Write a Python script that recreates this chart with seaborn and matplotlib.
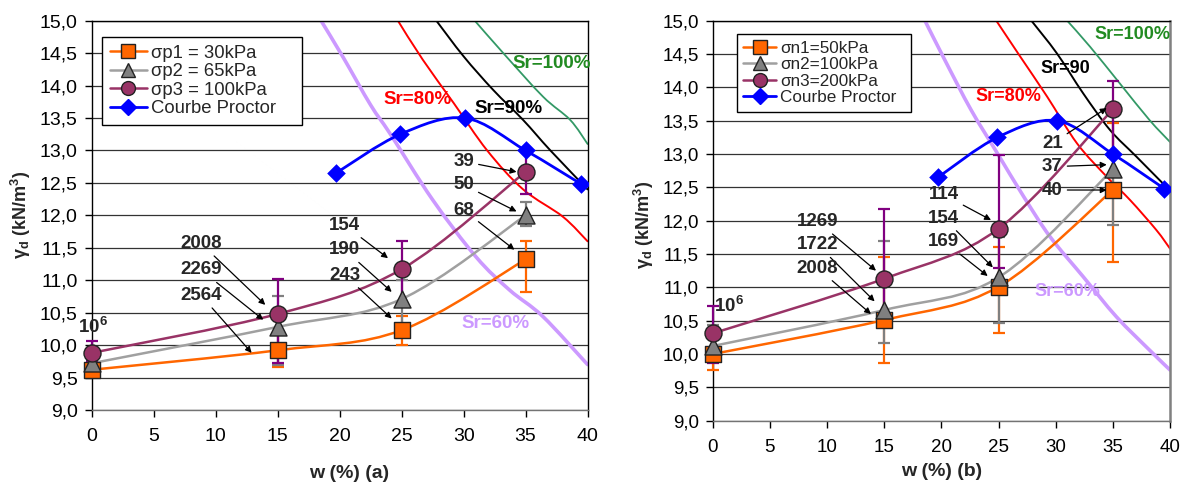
import numpy as np
import matplotlib

matplotlib.use('Agg')
import matplotlib.pyplot as plt
from matplotlib.path import Path
from matplotlib.patches import PathPatch
from matplotlib.lines import Line2D
from matplotlib.ticker import FuncFormatter, MultipleLocator
import seaborn as sns

# ---------------- data ----------------
w_test = [0, 15, 25, 35]

# panel (a) : sigma_p
sp1 = [9.62, 9.92, 10.23, 11.32]
sp1_lo = [9.56, 9.67, 10.00, 10.82]
sp1_hi = [9.70, 10.17, 10.45, 11.60]
sp2 = [9.72, 10.28, 10.71, 12.00]
sp2_lo = [9.65, 9.70, 10.25, 11.83]
sp2_hi = [9.80, 10.75, 11.00, 12.20]
sp3 = [9.88, 10.48, 11.17, 12.67]
sp3_lo = [9.75, 9.72, 10.62, 12.33]
sp3_hi = [10.07, 11.02, 11.61, 13.00]

# panel (b) : sigma_n
sn1 = [10.00, 10.51, 11.01, 12.46]
sn1_lo = [9.76, 9.87, 10.31, 11.38]
sn1_hi = [10.25, 11.46, 11.60, 13.46]
sn2 = [10.12, 10.66, 11.15, 12.77]
sn2_lo = [9.90, 10.16, 10.46, 11.94]
sn2_hi = [10.44, 11.70, 11.76, 13.60]
sn3 = [10.31, 11.13, 11.88, 13.67]
sn3_lo = [9.87, 10.44, 11.29, 12.96]
sn3_hi = [10.72, 12.17, 12.98, 14.10]

# Proctor curve
proctor_w = [19.7, 24.9, 30.1, 35.0, 39.5]
proctor_g = [12.65, 13.25, 13.50, 13.00, 12.48]

# saturation lines, panel (a)
sr60a_w = [18.5, 20.3, 22.5, 24.1, 27.5, 31.0, 33.7, 36.4, 40.0]
sr60a_g = [15.0, 14.43, 13.70, 13.25, 12.24, 11.36, 10.85, 10.44, 9.70]
sr80a_w = [24.7, 26.7, 29.2, 31.9, 34.8, 38.0, 40.0]
sr80a_g = [15.0, 14.40, 13.73, 13.0, 12.40, 11.98, 11.60]
sr90a_w = [27.8, 30.0, 32.4, 34.8, 37.0, 40.0]
sr90a_g = [15.0, 14.45, 13.93, 13.47, 13.0, 12.40]
sr100a_w = [30.9, 33.2, 36.4, 38.6, 40.0]
sr100a_g = [15.0, 14.50, 13.83, 13.47, 13.10]

# saturation lines, panel (b)
sr60b_w = [18.56, 20.3, 22.6, 24.9, 27.2, 29.5, 32.4, 35.3, 38.2, 40.0]
sr60b_g = [15.0, 14.41, 13.66, 13.01, 12.36, 11.76, 11.16, 10.56, 10.06, 9.76]
sr80b_w = [24.8, 26.9, 29.25, 31.86, 34.46, 36.5, 38.8, 40.0]
sr80b_g = [15.0, 14.46, 13.86, 13.16, 12.66, 12.31, 11.86, 11.58]
sr90b_w = [27.87, 30.1, 32.4, 34.75, 37.06, 40.0]
sr90b_g = [15.0, 14.51, 13.91, 13.36, 12.96, 12.45]
sr100b_w = [31.0, 33.0, 35.6, 38.2, 40.0]
sr100b_g = [15.0, 14.61, 14.06, 13.51, 13.18]

labels_a = ['σp1 = 30kPa', 'σp2 = 65kPa', 'σp3 = 100kPa', 'Courbe Proctor']
labels_b = ['σn1=50kPa', 'σn2=100kPa', 'σn3=200kPa', 'Courbe Proctor']

# annotation texts (number of cycles)
notes_a = ['2008', '2269', '2564', '154', '190', '243', '39', '50', '68']
notes_b = ['1269', '1722', '2008', '114', '154', '169', '21', '37', '40']

# ---------------- style ----------------
sns.set_style('white')
plt.rcParams['font.family'] = ['Liberation Sans', 'DejaVu Sans']
plt.rcParams['mathtext.fontset'] = 'custom'
plt.rcParams['mathtext.rm'] = 'Liberation Sans'
plt.rcParams['mathtext.bf'] = 'Liberation Sans:bold'

C_OR, C_GR, C_PU, C_BL = '#FF6600', '#A0A0A0', '#993366', '#0000FF'
E_OR, E_GR, E_PU = '#FF6600', '#808080', '#800080'


def smooth_path(xs, ys):
    """Excel-like smoothed line (Catmull-Rom as cubic Bezier)."""
    pts = np.column_stack([xs, ys]).astype(float)
    n = len(pts)
    verts, codes = [pts[0]], [Path.MOVETO]
    for i in range(n - 1):
        p0 = pts[i - 1] if i > 0 else pts[i]
        p1, p2 = pts[i], pts[i + 1]
        p3 = pts[i + 2] if i + 2 < n else pts[i + 1]
        verts += [p1 + (p2 - p0) / 6, p2 - (p3 - p1) / 6, p2]
        codes += [Path.CURVE4] * 3
    return Path(verts, codes)


def smooth_line(ax, xs, ys, color, lw, z):
    ax.add_patch(PathPatch(smooth_path(xs, ys), fill=False, edgecolor=color,
                           lw=lw, zorder=z, capstyle='round'))


def draw_panel(ax, series, sr, right_spine, right_lw, tick_fs):
    markers = ['s', '^', 'o']
    lcols = [C_OR, C_GR, C_PU]
    ecols = [E_OR, E_GR, E_PU]

    # saturation curves
    for (xs, ys), col, lw in zip(sr, ['#CC99FF', '#FF0000', '#000000', '#339966'],
                                 [2.6, 1.4, 1.4, 1.3]):
        smooth_line(ax, xs, ys, col, lw, 2)

    for (y, lo, hi), mk, lc, ec in zip(series, markers, lcols, ecols):
        y, lo, hi = np.array(y), np.array(lo), np.array(hi)
        smooth_line(ax, w_test, y, lc, 1.8, 3)
        ax.errorbar(w_test, y, yerr=[y - lo, hi - y], fmt='none', ecolor=ec,
                    elinewidth=1.6, capsize=4, capthick=1.6, zorder=4, clip_on=False)
        sns.scatterplot(x=w_test, y=y, marker=mk, s=150 if mk != 's' else 130,
                        color=lc if mk != '^' else '#808080', edgecolor='#222222',
                        linewidth=1.0, ax=ax, zorder=5, clip_on=False)

    smooth_line(ax, proctor_w, proctor_g, C_BL, 2.0, 6)
    sns.scatterplot(x=proctor_w, y=proctor_g, marker='D', s=90, color=C_BL,
                    edgecolor=C_BL, linewidth=0, ax=ax, zorder=7)

    ax.set_xlim(0, 40)
    ax.set_ylim(9, 15)
    ax.xaxis.set_major_locator(MultipleLocator(5))
    ax.yaxis.set_major_locator(MultipleLocator(0.5))
    ax.yaxis.set_major_formatter(FuncFormatter(lambda v, p: f'{v:.1f}'.replace('.', ',')))
    ax.yaxis.grid(True, color='0.2', lw=0.9)
    ax.xaxis.grid(False)
    ax.set_axisbelow(True)
    ax.tick_params(axis='both', labelsize=tick_fs, direction='out', length=5,
                   width=1, left=True, bottom=True, colors='black')
    ax.tick_params(axis='x', pad=8)
    ax.tick_params(axis='y', pad=5)
    for s in ax.spines.values():
        s.set_linewidth(1.0)
    for s in ['left', 'top']:
        ax.spines[s].set_color('black')
    ax.spines['bottom'].set_color('0.45')
    ax.spines['right'].set_color(right_spine)
    ax.spines['right'].set_linewidth(right_lw)

    handles = [
        Line2D([], [], color=C_OR, lw=1.8, marker='s', markersize=10,
               markerfacecolor=C_OR, markeredgecolor='#222222'),
        Line2D([], [], color=C_GR, lw=1.8, marker='^', markersize=10,
               markerfacecolor='#808080', markeredgecolor='#222222'),
        Line2D([], [], color=C_PU, lw=1.8, marker='o', markersize=10,
               markerfacecolor=C_PU, markeredgecolor='#222222'),
        Line2D([], [], color=C_BL, lw=2.0, marker='D', markersize=8,
               markerfacecolor=C_BL, markeredgecolor=C_BL),
    ]
    return handles


fig = plt.figure(figsize=(11.82, 4.82), dpi=100)
ax_a = fig.add_axes([0.0776, 0.1494, 0.4195, 0.8077])
ax_b = fig.add_axes([0.603, 0.1272, 0.3869, 0.8299])

h_a = draw_panel(ax_a, [(sp1, sp1_lo, sp1_hi), (sp2, sp2_lo, sp2_hi), (sp3, sp3_lo, sp3_hi)],
                 [(sr60a_w, sr60a_g), (sr80a_w, sr80a_g), (sr90a_w, sr90a_g), (sr100a_w, sr100a_g)],
                 'black', 1.0, 14)
h_b = draw_panel(ax_b, [(sn1, sn1_lo, sn1_hi), (sn2, sn2_lo, sn2_hi), (sn3, sn3_lo, sn3_hi)],
                 [(sr60b_w, sr60b_g), (sr80b_w, sr80b_g), (sr90b_w, sr90b_g), (sr100b_w, sr100b_g)],
                 '0.5', 1.8, 13.5)

leg_kw = dict(loc='upper left', mode='expand', frameon=True, fancybox=False,
              edgecolor='black', framealpha=1, handletextpad=0.25, labelspacing=0.08,
              borderaxespad=0, borderpad=0.4)
lg = ax_a.legend(h_a, labels_a, bbox_to_anchor=(0.0214, 0.0, 0.403, 0.957), fontsize=13.3,
                 handlelength=2.0, **leg_kw)
lg.get_frame().set_linewidth(1.0)
lg = ax_b.legend(h_b, labels_b, bbox_to_anchor=(0.052, 0.0, 0.3815, 0.966), fontsize=12.3,
                 handlelength=1.9, **leg_kw)
lg.get_frame().set_linewidth(1.0)

# axis labels
ylab = r'γ$_{\mathbf{d}}$ (kN/m$^{\mathbf{3}}$)'
ax_a.set_ylabel(ylab, fontsize=13, fontweight='bold')
ax_a.yaxis.set_label_coords(-0.118, 0.50)
ax_b.set_ylabel(ylab, fontsize=13, fontweight='bold')
ax_b.yaxis.set_label_coords(-0.125, 0.49)
ax_a.set_xlabel('w (%) (a)', fontsize=14, fontweight='bold')
ax_a.xaxis.set_label_coords(0.519, -0.142)
ax_b.set_xlabel('w (%) (b)', fontsize=14, fontweight='bold')
ax_b.xaxis.set_label_coords(0.5, -0.106)

# saturation labels
sr_col = ['#CC99FF', '#FF0000', '#000000', '#228B22']
for t, c, (x, y) in zip(['Sr=60%', 'Sr=80%', 'Sr=90%', 'Sr=100%'], sr_col,
                        [(32.6, 10.34), (26.3, 13.78), (33.65, 13.65), (37.1, 14.34)]):
    ax_a.text(x, y, t, color=c, fontsize=13.5, fontweight='bold', ha='center', va='center', zorder=8)
for t, c, (x, y) in zip(['Sr=60%', 'Sr=80%', 'Sr=90', 'Sr=100%'], sr_col,
                        [(31.0, 10.94), (25.9, 13.87), (30.8, 14.29), (36.7, 14.79)]):
    ax_b.text(x, y, t, color=c, fontsize=13, fontweight='bold', ha='center', va='center', zorder=8)

# number-of-cycles annotations
arrow = dict(arrowstyle='-|>', color='black', lw=0.9, mutation_scale=9, shrinkA=1, shrinkB=0)
pos_a = [(8.8, 11.57), (8.8, 11.16), (8.8, 10.77), (20.4, 11.85), (20.4, 11.47), (20.4, 11.08),
         (30.0, 12.83), (30.0, 12.47), (30.0, 12.08)]
tgt_a = [(14.0, 10.62), (13.84, 10.39), (12.9, 9.88), (23.9, 11.34), (24.2, 10.82), (24.2, 10.41),
         (34.27, 12.67), (34.27, 12.06), (34.1, 11.47)]
pos_b = [(9.16, 11.99), (9.16, 11.64), (9.16, 11.29), (20.2, 12.39), (20.2, 12.04), (20.2, 11.69),
         (29.7, 13.16), (29.7, 12.81), (29.7, 12.46)]
tgt_b = [(14.28, 11.25), (14.16, 10.79), (13.84, 10.6), (24.34, 12.01), (24.5, 11.30), (24.05, 11.17),
         (34.46, 13.69), (34.46, 12.84), (34.46, 12.46)]
for ax, notes, pos, tgt in [(ax_a, notes_a, pos_a, tgt_a), (ax_b, notes_b, pos_b, tgt_b)]:
    for t, p, q in zip(notes, pos, tgt):
        ax.annotate(t, xy=q, xytext=p, fontsize=13.5, fontweight='bold', ha='center',
                    va='center', arrowprops=arrow, zorder=9)

ax_a.text(0.1, 10.29, r'10$^{\mathbf{6}}$', fontsize=13.5, fontweight='bold',
          ha='center', va='center', zorder=9)
ax_b.text(1.42, 10.72, r'10$^{\mathbf{6}}$', fontsize=13.5, fontweight='bold',
          ha='center', va='center', zorder=9)

fig.savefig('out.png', dpi=100)
